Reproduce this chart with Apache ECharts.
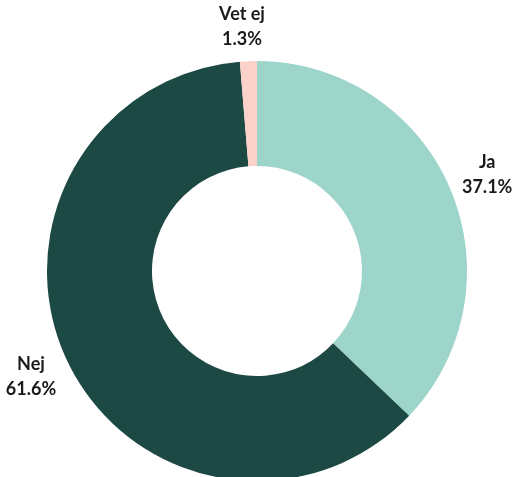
<!DOCTYPE html>
<html>
<head>
<meta charset="utf-8">
<script src="https://cdn.jsdelivr.net/npm/echarts@6/dist/echarts.min.js"></script>
<style>
  html, body { margin: 0; padding: 0; background: #fff; }
  #chart { width: 512px; height: 477px; }
</style>
</head>
<body>
<div id="chart"></div>
<script>
const categories = ['Ja', 'Nej', 'Vet ej'];
const values = [37.1, 61.6, 1.3];
const colors = ['#9dd5cb', '#1d4945', '#fcd1c9'];

const chart = echarts.init(document.getElementById('chart'));

chart.setOption({
  animation: false,
  series: [{
    type: 'pie',
    center: [257, 271],
    radius: [105, 210],
    startAngle: 90,
    clockwise: true,
    data: categories.map((name, i) => ({
      name,
      value: values[i],
      itemStyle: { color: colors[i] }
    })),
    label: {
      show: true,
      position: 'outside',
      formatter: p => p.name + '\n' + p.value.toFixed(1) + '%',
      fontFamily: 'Lato',
      fontWeight: 'bold',
      fontSize: 18,
      lineHeight: 25,
      color: '#1a1a1a',
      overflow: 'none'
    },
    labelLine: { show: false, length: 35, length2: 0 },
    labelLayout: () => ({ align: 'center', verticalAlign: 'middle', hideOverlap: false })
  }]
});

window.addEventListener('resize', () => chart.resize());
</script>
</body>
</html>
